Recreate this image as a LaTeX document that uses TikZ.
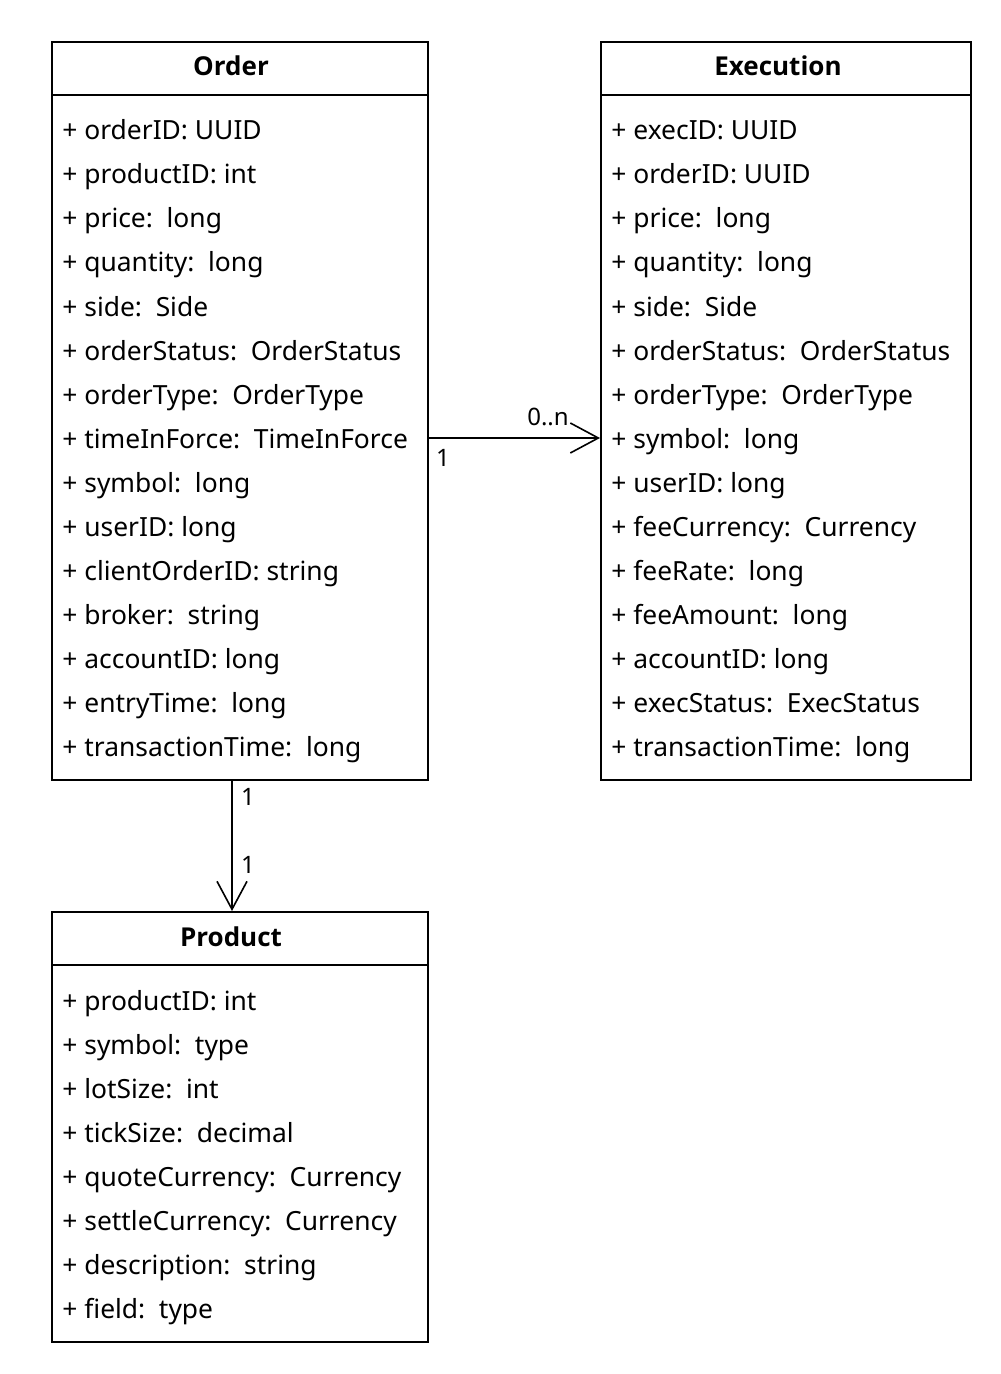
\documentclass[tikz,border=0pt]{standalone}
\usepackage{fontspec}
\setmainfont{Noto Sans}
\newfontfamily\titlefont{Open Sans}
\usetikzlibrary{arrows.meta}
\begin{document}
\begin{tikzpicture}[x=0.5pt,y=-0.5pt,
  classbox/.style={draw, line width=1pt, inner sep=0, anchor=north west},
  title/.style={anchor=base, inner sep=0, font=\fontsize{13pt}{15pt}\selectfont\titlefont\bfseries},
  attr/.style={anchor=base west, inner sep=0, font=\fontsize{13.2pt}{15pt}\selectfont},
  mult/.style={inner sep=0, font=\fontsize{12pt}{14pt}\selectfont},
  assoc/.style={line width=0.8pt, -{Straight Barb[length=14pt, width=15pt, line width=0.8pt]}},
  sep/.style={line width=1pt}]
\useasboundingbox (0,0) rectangle (1000,1374);
\fill[white] (0,0) rectangle (1000,1374);

% boxes
\node[classbox, minimum width=188pt, minimum height=369pt] (order) at (51,41) {};
\node[classbox, minimum width=185pt, minimum height=369pt] (exec) at (600,41) {};
\node[classbox, minimum width=188pt, minimum height=215pt] (product) at (51,911) {};

\draw[sep] ([yshift=-27pt]order.north west) -- ([yshift=-27pt]order.north east);
\draw[sep] ([yshift=-27pt]exec.north west) -- ([yshift=-27pt]exec.north east);
\draw[sep] ([yshift=-27pt]product.north west) -- ([yshift=-27pt]product.north east);

\node[title] (ordert) at (231,76) {Order};
\node[title] (exect) at (778,76) {Execution};
\node[title] (productt) at (231,946) {Product};

\foreach \t [count=\i] in {+ orderID: UUID, + productID: int, + price:\ \ long, + quantity:\ \ long,
  + side:\ \ Side, + orderStatus:\ \ OrderStatus, + orderType:\ \ OrderType, + timeInForce:\ \ TimeInForce,
  + symbol:\ \ long, + userID: long, + clientOrderID: string, + broker:\ \ string,
  + accountID: long, + entryTime:\ \ long, + transactionTime:\ \ long}
  {\node[attr] (o\i) at (62,96+44*\i) {\t};}

\foreach \t [count=\i] in {+ execID: UUID, + orderID: UUID, + price:\ \ long, + quantity:\ \ long,
  + side:\ \ Side, + orderStatus:\ \ OrderStatus, + orderType:\ \ OrderType, + symbol:\ \ long,
  + userID: long, + feeCurrency:\ \ Currency, + feeRate:\ \ long, + feeAmount:\ \ long,
  + accountID: long, + execStatus:\ \ ExecStatus, + transactionTime:\ \ long}
  {\node[attr] (e\i) at (611,96+44*\i) {\t};}

\foreach \t [count=\i] in {+ productID: int, + symbol:\ \ type, + lotSize:\ \ int, + tickSize:\ \ decimal,
  + quoteCurrency:\ \ Currency, + settleCurrency:\ \ Currency, + description:\ \ string, + field:\ \ type}
  {\node[attr] (p\i) at (62,966+44*\i) {\t};}

% associations
\coordinate (oa) at ([yshift=-13.5pt]order.east);
\coordinate (ea) at (exec.west |- oa);
\draw[assoc] (oa) -- (ea);
\node[mult] (m1) at (548,417) {0..n};
\node[mult] (m2) at (443,458) {1};

\coordinate (ob) at ([xshift=-4pt]order.south);
\coordinate (pb) at ([xshift=-4pt]product.north);
\draw[assoc] (ob) -- (pb);
\node[mult] (m3) at (248,797) {1};
\node[mult] (m4) at (248,865) {1};
\end{tikzpicture}
\end{document}
